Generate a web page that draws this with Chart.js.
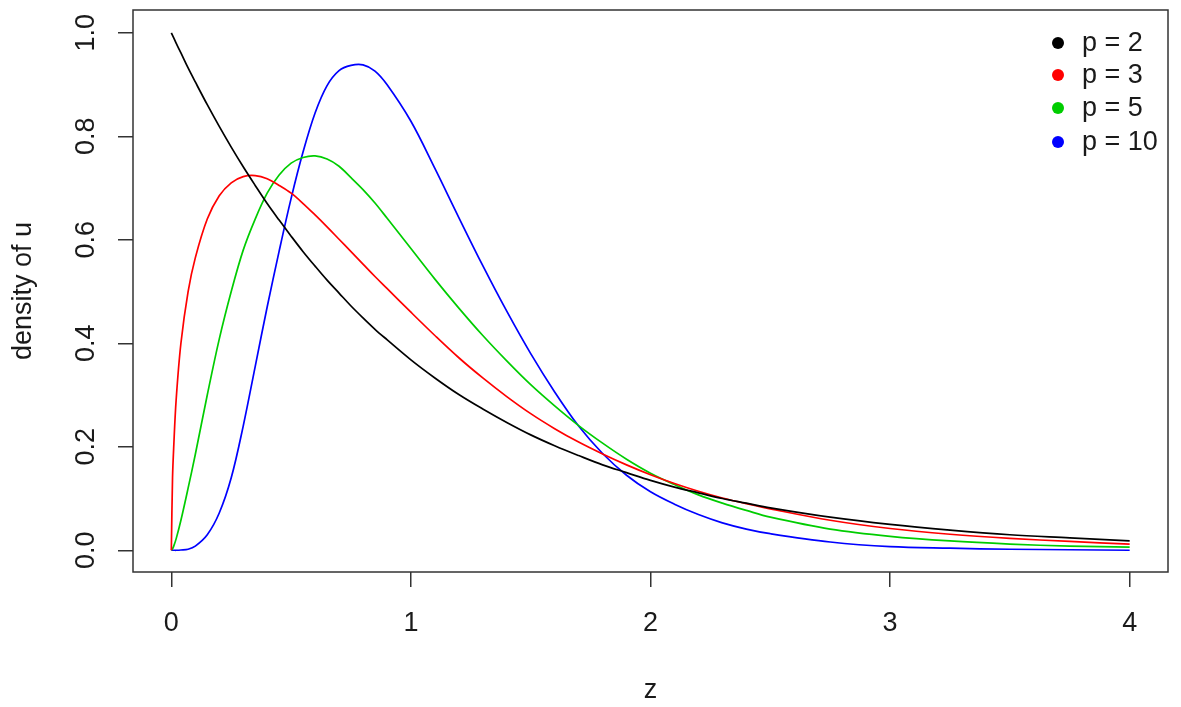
<!DOCTYPE html>
<html>
<head>
<meta charset="utf-8">
<script src="https://cdn.jsdelivr.net/npm/chart.js@4.4.1/dist/chart.umd.min.js"></script>
<style>
    html, body { margin: 0; padding: 0; background: #ffffff; }
    #wrap { width: 1181px; height: 707px; }
</style>
</head>
<body>
<div id="wrap"><canvas id="densityChart"></canvas></div>
<script>
// z positions the curves were read at
const zValues = [0, 0.005, 0.01, 0.02, 0.04, 0.07, 0.1, 0.15, 0.2, 0.25, 0.3, 0.35, 0.4, 0.45, 0.5, 0.55,
    0.6, 0.65, 0.7, 0.75, 0.8, 0.85, 0.9, 1.0, 1.1, 1.2, 1.3, 1.4, 1.5, 1.6, 1.7, 1.8, 1.9, 2.0,
    2.1, 2.2, 2.3, 2.4, 2.5, 2.75, 3.0, 3.25, 3.5, 3.75, 4.0];

// density of u
const densityP2 = [1.0, 0.995, 0.99, 0.98, 0.961, 0.932, 0.905, 0.861, 0.819, 0.779, 0.741, 0.705, 0.670, 0.638, 0.607, 0.577,
    0.549, 0.522, 0.497, 0.472, 0.449, 0.427, 0.407, 0.368, 0.333, 0.301, 0.273, 0.247, 0.223, 0.202, 0.183, 0.165, 0.150, 0.135,
    0.122, 0.111, 0.100, 0.091, 0.082, 0.064, 0.05, 0.039, 0.030, 0.024, 0.018];
const densityP3 = [0, 0.14, 0.20, 0.29, 0.40, 0.50, 0.565, 0.64, 0.685, 0.71, 0.722, 0.724, 0.718, 0.705, 0.69, 0.67,
    0.648, 0.625, 0.601, 0.577, 0.553, 0.529, 0.506, 0.46, 0.415, 0.372, 0.333, 0.297, 0.264, 0.235, 0.209, 0.186, 0.165, 0.146,
    0.129, 0.114, 0.101, 0.090, 0.080, 0.058, 0.042, 0.031, 0.023, 0.017, 0.012];
const densityP5 = [0, 0.003, 0.008, 0.022, 0.058, 0.12, 0.185, 0.30, 0.408, 0.50, 0.58, 0.64, 0.69, 0.725, 0.748, 0.759,
    0.762, 0.756, 0.742, 0.72, 0.697, 0.671, 0.642, 0.583, 0.524, 0.468, 0.415, 0.366, 0.320, 0.279, 0.241, 0.207, 0.176, 0.149,
    0.127, 0.107, 0.091, 0.077, 0.064, 0.041, 0.027, 0.018, 0.012, 0.008, 0.006];
const densityP10 = [0, 0, 0, 0, 0.0005, 0.002, 0.008, 0.03, 0.072, 0.14, 0.24, 0.355, 0.47, 0.578, 0.68, 0.77,
    0.845, 0.898, 0.927, 0.937, 0.938, 0.926, 0.90, 0.829, 0.738, 0.643, 0.55, 0.462, 0.38, 0.306, 0.240, 0.187, 0.145, 0.113,
    0.089, 0.069, 0.053, 0.041, 0.032, 0.016, 0.007, 0.004, 0.002, 0.001, 0];

const seriesLabels = ['p = 2', 'p = 3', 'p = 5', 'p = 10'];
const seriesColors = ['#000000', '#ff0000', '#00cd00', '#0000ff'];

const xTicks = [0, 1, 2, 3, 4];
const yTicks = [0, 0.2, 0.4, 0.6, 0.8, 1.0];

const FONT = { family: '"Liberation Sans", Arial, Helvetica, sans-serif', size: 27 };
const INK = '#1a1a1a';

function toPoints(values) {
    return values.map((v, i) => ({ x: zValues[i], y: v }));
}

/* Draws the closed box round the plot region, like R's bty = "o". */
const plotBox = {
    id: 'plotBox',
    afterDraw(chart) {
        const { ctx, chartArea } = chart;
        ctx.save();
        ctx.strokeStyle = '#333333';
        ctx.lineWidth = 1.5;
        ctx.strokeRect(chartArea.left, chartArea.top, chartArea.right - chartArea.left, chartArea.bottom - chartArea.top);
        ctx.restore();
    }
};

/* R draws y tick labels parallel to the axis; Chart.js pads the plot for
 * rotated labels, so they are written here at the scale's own pixels. */
const rotatedYLabels = {
    id: 'rotatedYLabels',
    afterDraw(chart) {
        const { ctx } = chart;
        const yScale = chart.scales.y;
        ctx.save();
        ctx.font = `${FONT.size}px ${FONT.family}`;
        ctx.fillStyle = INK;
        ctx.textAlign = 'center';
        ctx.textBaseline = 'middle';
        yTicks.forEach(v => {
            ctx.save();
            ctx.translate(87, yScale.getPixelForValue(v));
            ctx.rotate(-Math.PI / 2);
            ctx.fillText(v.toFixed(1), 0, 0);
            ctx.restore();
        });
        ctx.restore();
    }
};

/* Legend in the top right corner: filled dot plus label for each dataset. */
const dotLegend = {
    id: 'dotLegend',
    afterDraw(chart) {
        const { ctx } = chart;
        const dotX = 1058;
        const textX = 1082;
        const rowY = [43, 75, 108, 142];
        ctx.save();
        ctx.font = `${FONT.size}px ${FONT.family}`;
        ctx.textBaseline = 'middle';
        ctx.textAlign = 'left';
        chart.data.datasets.forEach((ds, i) => {
            ctx.fillStyle = ds.borderColor;
            ctx.beginPath();
            ctx.arc(dotX, rowY[i], 6, 0, Math.PI * 2);
            ctx.fill();
            ctx.fillStyle = INK;
            ctx.fillText(ds.label, textX, rowY[i] + 1);
        });
        ctx.restore();
    }
};

const datasets = [densityP2, densityP3, densityP5, densityP10].map((values, i) => ({
    label: seriesLabels[i],
    data: toPoints(values),
    borderColor: seriesColors[i],
    borderWidth: 1.7,
    pointRadius: 0,
    fill: false,
    tension: 0.35
}));

new Chart(document.getElementById('densityChart'), {
    type: 'line',
    data: { datasets },
    options: {
        responsive: true,
        maintainAspectRatio: false,
        animation: false,
        layout: { padding: { left: 0, right: 13, top: 10, bottom: 0 } },
        plugins: { legend: { display: false }, tooltip: { enabled: false } },
        scales: {
            x: {
                type: 'linear',
                min: -0.16,
                max: 4.16,
                afterFit(scale) { scale.height = 135; },
                afterBuildTicks(scale) { scale.ticks = xTicks.map(v => ({ value: v })); },
                border: { display: false },
                grid: { drawOnChartArea: false, drawTicks: true, tickLength: 15, color: '#333333', lineWidth: 1.5 },
                ticks: { font: FONT, color: INK, padding: 20, maxRotation: 0, callback: v => String(v) },
                title: { display: true, text: 'z', font: FONT, color: INK, padding: { top: 0, bottom: 0 } }
            },
            y: {
                type: 'linear',
                min: -0.042,
                max: 1.044,
                afterFit(scale) { scale.width = 133; },
                afterBuildTicks(scale) { scale.ticks = yTicks.map(v => ({ value: v })); },
                border: { display: false },
                grid: { drawOnChartArea: false, drawTicks: true, tickLength: 15, color: '#333333', lineWidth: 1.5 },
                ticks: { display: false },
                title: { display: true, text: 'density of u', font: FONT, color: INK, padding: { top: 7, bottom: 0 } }
            }
        }
    },
    plugins: [plotBox, rotatedYLabels, dotLegend]
});
</script>
</body>
</html>
